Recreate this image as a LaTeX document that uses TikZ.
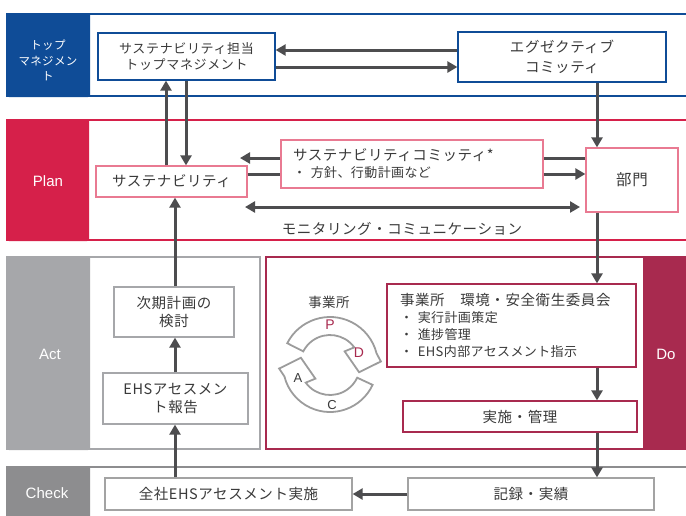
\documentclass[tikz,border=0pt]{standalone}
\usepackage{fontspec}
\usetikzlibrary{arrows.meta}
\newfontfamily\jpA[LetterSpace=4]{Noto Sans CJK JP}
\newfontfamily\jpB[LetterSpace=5]{Noto Sans CJK JP}
\newfontfamily\jpC[LetterSpace=3]{Noto Sans CJK JP}
\newfontfamily\lat{Liberation Sans}
\definecolor{tmblue}{HTML}{0F4C97}
\definecolor{planred}{HTML}{D6204A}
\definecolor{planpink}{HTML}{E97A92}
\definecolor{actgrey}{HTML}{A6A7AA}
\definecolor{docrim}{HTML}{A82A4F}
\definecolor{chkgrey}{HTML}{8D8D8F}
\definecolor{arrc}{HTML}{4D4D4F}
\definecolor{txt}{HTML}{3A3A3A}
\definecolor{boxgrey}{HTML}{A3A3A3}
\definecolor{cycgrey}{HTML}{9C9C9C}
\tikzset{
  box/.style={draw, line width=1.3pt, fill=white, inner sep=0pt, align=center,
    text=txt, font=\jpA\fontsize{14.5}{17}\selectfont},
  lab/.style={text=white, align=center, font=\lat\fontsize{15}{18}\selectfont},
  arr/.style={line width=3pt, draw=arrc, -{Triangle[length=10pt,width=11pt]}},
  darr/.style={line width=3pt, draw=arrc, {Triangle[length=10pt,width=11pt]}-{Triangle[length=10pt,width=11pt]}},
  ln/.style={line width=3pt, draw=arrc},
  cyc/.style={draw=cycgrey, line width=1.8pt, fill=white, line join=miter},
  band/.style={line width=2pt}
}
\begin{document}
\begin{tikzpicture}[x=1pt, y=-1pt]
\useasboundingbox (0,0) rectangle (686,515);
% ---- bands ----
\draw[band, tmblue] (7,14) rectangle (694,96);
\fill[tmblue, rounded corners=2pt] (7,13) rectangle (90,97);
\draw[band, planred] (7,120) rectangle (694,240);
\fill[planred, rounded corners=2pt] (7,119) rectangle (89,241);
\draw[band, actgrey] (7,257) rectangle (260,449);
\fill[actgrey, rounded corners=2pt] (7,256) rectangle (90,450);
\draw[band, docrim] (266,257) rectangle (694,449);
\fill[docrim] (643,256) rectangle (694,450);
\draw[band, chkgrey] (694,467) -- (7,467) -- (7,520);
\fill[chkgrey, rounded corners=2pt] (7,466) rectangle (90,530);
% ---- band labels ----
\node[lab, font=\jpC\fontsize{11.5}{15.5}\selectfont] (ltm) at (48,60.5) {トップ\\マネジメン\\ト};
\node[lab] (lplan) at (48,181) {Plan};
\node[lab] (lact) at (50,354) {Act};
\node[lab] (ldo) at (666,354) {Do};
\node[lab] (lchk) at (47,493) {Check};
% ---- boxes ----
\node[box, draw=tmblue, minimum width=177pt, minimum height=47pt,
  font=\jpB\fontsize{13}{15.5}\selectfont] (tm) at (186.5,56.5) {サステナビリティ担当\\トップマネジメント};
\node[box, draw=tmblue, minimum width=208pt, minimum height=50pt,
  font=\jpA\fontsize{14.5}{20}\selectfont] (ec) at (562,57) {エグゼクティブ\\コミッティ};
\node[box, draw=planpink, minimum width=151pt, minimum height=31pt] (sus) at (171.5,181.5) {サステナビリティ};
\node[box, draw=planpink, minimum height=48pt, inner xsep=12pt, text width=238pt, align=left] (sc) at (412,164)
  {サステナビリティコミッティ*\\{\jpC\fontsize{13}{17}\selectfont ・ 方針、行動計画など}};
\node[box, draw=planpink, minimum width=92pt, minimum height=64pt,
  font=\jpB\fontsize{15.5}{17}\selectfont] (bm) at (632,180) {部門};
\node[box, draw=actgrey, minimum width=120pt, minimum height=50pt, font=\jpA\fontsize{14.5}{18}\selectfont] (next) at (174,312) {次期計画の\\検討};
\node[box, draw=actgrey, minimum width=145pt, minimum height=51pt, font=\jpA\fontsize{14.5}{18.5}\selectfont] (ehsr) at (175.5,398.5) {EHSアセスメン\\ト報告};
\node[box, draw=docrim, minimum height=83pt, inner xsep=13pt, text width=223pt, align=left] (com) at (511.5,325.5)
  {事業所　環境・安全衛生委員会\\
   {\jpC\fontsize{13}{17}\selectfont ・ 実行計画策定}\\
   {\jpC\fontsize{13}{17}\selectfont ・ 進捗管理}\\
   {\jpC\fontsize{13}{17}\selectfont ・ EHS内部アセスメント指示}};
\node[box, draw=docrim, minimum width=234pt, minimum height=31pt] (impl) at (520,416.5) {実施・管理};
\node[box, draw=boxgrey, minimum width=247pt, minimum height=32pt] (all) at (228.5,494) {全社EHSアセスメント実施};
\node[box, draw=boxgrey, minimum width=246pt, minimum height=32pt] (rec) at (531,494) {記録・実績};
\node[text=txt, font=\jpA\fontsize{14.5}{17}\selectfont] (moni) at (402,229) {モニタリング・コミュニケーション};
% ---- helper coordinates ----
\coordinate (cx1) at (166,0);
\coordinate (cx2) at (186,0);
\coordinate (ax) at (175,0);
\coordinate (vx) at (597,0);
\coordinate (r1) at (0,50);
\coordinate (r2) at (0,67);
\coordinate (p1) at (0,158);
\coordinate (p2) at (0,174);
\coordinate (p1end) at (240,158);
\coordinate (monL) at (245,207);
\coordinate (monR) at (580,207);
% ---- connectors ----
\draw[arr] (ec.west |- r1) -- (tm.east |- r1);
\draw[arr] (tm.east |- r2) -- (ec.west |- r2);
\draw[arr] (sus.north -| cx1) -- (tm.south -| cx1);
\draw[arr] (tm.south -| cx2) -- (sus.north -| cx2);
\draw[arr] (ec.south -| vx) -- (bm.north -| vx);
\draw[ln] (bm.west |- p1) -- (sc.east |- p1);
\draw[arr] (sc.west |- p1) -- (p1end);
\draw[ln] (sus.east |- p2) -- (sc.west |- p2);
\draw[arr] (sc.east |- p2) -- (bm.west |- p2);
\draw[darr] (monL) -- (monR);
\draw[arr] (next.north -| ax) -- (sus.south -| ax);
\draw[arr] (ehsr.north -| ax) -- (next.south -| ax);
\draw[arr] (all.north -| ax) -- (ehsr.south -| ax);
\draw[arr] (bm.south -| vx) -- (com.north -| vx);
\draw[arr] (com.south -| vx) -- (impl.north -| vx);
\draw[arr] (impl.south -| vx) -- (rec.north -| vx);
\draw[arr] (rec.west) -- (all.east);
% ---- PDCA cycle ----
\node[text=txt, font=\jpC\fontsize{13.5}{16}\selectfont] (jig) at (329,302) {事業所};
\begin{scope}[shift={(330,365)}]
  \draw[cyc] (153:48pt) arc[start angle=153, end angle=14, radius=48pt]
    -- (4:51pt) -- (-14:30pt) -- (43:20pt) -- (36:30pt)
    arc[start angle=36, end angle=153, radius=30pt] -- cycle;
  \draw[cyc] (-25:47pt) arc[start angle=-25, end angle=-166, radius=47pt]
    -- (184:51pt) -- (166:30pt) -- (223:20pt) -- (216:30pt)
    arc[start angle=216, end angle=335, radius=30pt] -- cycle;
\end{scope}
\node[text=docrim, font=\lat\fontsize{14}{15}\selectfont] (lp) at (330,325) {P};
\node[text=docrim, font=\lat\fontsize{14}{15}\selectfont] (ld) at (359,353) {D};
\node[text=txt, font=\lat\fontsize{13}{15}\selectfont] (la) at (298,378) {A};
\node[text=txt, font=\lat\fontsize{13}{15}\selectfont] (lc) at (332,405) {C};
\end{tikzpicture}
\end{document}
